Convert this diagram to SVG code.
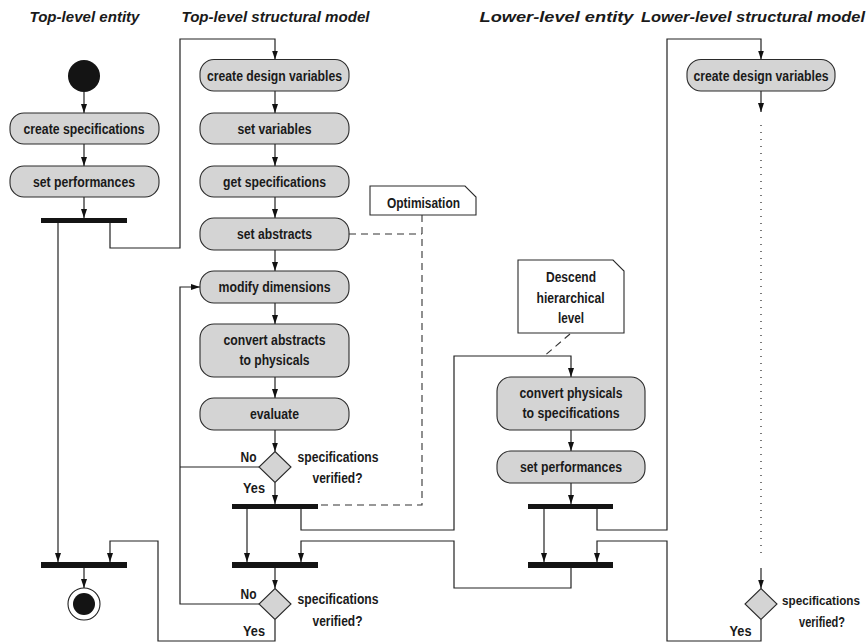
<svg xmlns="http://www.w3.org/2000/svg" width="867" height="643" viewBox="0 0 867 643">
  <defs>
    <marker id="arrow" markerUnits="userSpaceOnUse" markerWidth="10" markerHeight="8" refX="9" refY="3" orient="auto">
      <path d="M0,0 L9,3 L0,6 z" fill="#111"/>
    </marker>
    <style>
      text { font-family: "Liberation Sans", Arial, sans-serif; font-weight: bold; fill: #1a1a1a; }
      .title { font-size: 15px; font-style: italic; }
      .lbl { font-size: 14px; text-anchor: middle; }
      .sm { font-size: 13px; }
      .act { fill: #d4d4d4; stroke: #2a2a2a; stroke-width: 1.1; }
      .bar { fill: #141414; }
      .dec { fill: #d4d4d4; stroke: #2a2a2a; stroke-width: 1.1; }
      .note { fill: #ffffff; stroke: #2a2a2a; stroke-width: 1.1; }
      .flow { fill: none; stroke: #222; stroke-width: 1.2; }
      .arr { marker-end: url(#arrow); }
      .dash { fill: none; stroke: #333; stroke-width: 1.1; stroke-dasharray: 7 5; }
      .dot { fill: none; stroke: #222; stroke-width: 1.2; stroke-dasharray: 1 6; }
    </style>
  </defs>

  <!-- swimlane headings -->
  <g id="headings">
    <text class="title" x="29.5" y="21.5" textLength="110" lengthAdjust="spacingAndGlyphs">Top-level entity</text>
    <text class="title" x="181.5" y="21.5" textLength="188" lengthAdjust="spacingAndGlyphs">Top-level structural model</text>
    <text class="title" x="479.5" y="22" textLength="154" lengthAdjust="spacingAndGlyphs">Lower-level entity</text>
    <text class="title" x="641" y="22" textLength="224" lengthAdjust="spacingAndGlyphs">Lower-level structural model</text>
  </g>

  <!-- connectors -->
  <g id="connectors">
    <!-- top-level entity -->
    <path class="flow arr" d="M84,92 V113"/>
    <path class="flow arr" d="M84,144 V166"/>
    <path class="flow arr" d="M84,197 V218"/>
    <path class="flow arr" d="M58,223 V562"/>
    <path class="flow arr" d="M110,223 V248 H180 V39 H275 V59.5"/>
    <path class="flow arr" d="M84,568 V588"/>

    <!-- top-level structural model -->
    <path class="flow arr" d="M275,91 V113"/>
    <path class="flow arr" d="M275,144 V166"/>
    <path class="flow arr" d="M275,197 V218"/>
    <path class="flow arr" d="M275,250 V271"/>
    <path class="flow arr" d="M275,303 V324"/>
    <path class="flow arr" d="M275,377 V398"/>
    <path class="flow arr" d="M275,430 V451.5"/>
    <path class="flow arr" d="M275,482.5 V504"/>
    <path class="flow arr" d="M247,509 V562"/>
    <path class="flow arr" d="M275,568 V588.5"/>
    <!-- "No" loops back to modify dimensions -->
    <path class="flow" d="M259,467 H180"/>
    <path class="flow arr" d="M259,604 H180 V287 H200"/>
    <!-- "Yes" from the last check joins the top-level entity -->
    <path class="flow arr" d="M275,619.5 V641 H158 V541 H110 V562"/>

    <!-- descend into the lower level and back -->
    <path class="flow arr" d="M301,509 V530 H454 V356 H571 V377"/>
    <path class="flow arr" d="M571,568 V588 H454 V541 H301 V562"/>

    <!-- lower-level entity -->
    <path class="flow arr" d="M571,430 V451"/>
    <path class="flow arr" d="M571,483 V504"/>
    <path class="flow arr" d="M544,509 V562"/>
    <path class="flow arr" d="M597,509 V530 H667 V39 H761 V59.5"/>
    <path class="flow arr" d="M761,619.5 V641 H667 V541 H597 V562"/>

    <!-- lower-level structural model -->
    <path class="flow arr" d="M761,91 V112"/>
    <path class="dot" d="M761,125 V556"/>
    <path class="flow arr" d="M761,568 V588.5"/>

    <!-- note anchors -->
    <path class="dash" d="M349,234 H422"/>
    <path class="dash" d="M422,215 V505 H318"/>
    <path class="dash" d="M570,334 L543,357"/>
  </g>

  <!-- top-level entity -->
  <g id="start">
    <circle cx="84" cy="76" r="16" fill="#141414"/>
  </g>
  <g id="create-specifications">
    <rect class="act" x="10" y="113" width="149" height="31" rx="14"/>
    <text class="lbl" x="84" y="133.5" textLength="121" lengthAdjust="spacingAndGlyphs">create specifications</text>
  </g>
  <g id="set-performances-top">
    <rect class="act" x="10" y="166" width="149" height="31" rx="14"/>
    <text class="lbl" x="84" y="186.5" textLength="102" lengthAdjust="spacingAndGlyphs">set performances</text>
  </g>
  <g id="fork-top">
    <rect class="bar" x="41" y="218" width="86" height="5"/>
  </g>
  <g id="join-top">
    <rect class="bar" x="41" y="562" width="86" height="6"/>
  </g>
  <g id="end">
    <circle cx="84" cy="604" r="16" fill="#ffffff" stroke="#222" stroke-width="1.1"/>
    <circle cx="84" cy="604" r="11" fill="#141414"/>
  </g>

  <!-- top-level structural model -->
  <g id="create-design-variables-top">
    <rect class="act" x="200" y="59.5" width="149" height="31.5" rx="14"/>
    <text class="lbl" x="274.5" y="80.5" textLength="135" lengthAdjust="spacingAndGlyphs">create design variables</text>
  </g>
  <g id="set-variables">
    <rect class="act" x="200" y="113" width="149" height="31" rx="14"/>
    <text class="lbl" x="274.5" y="133.5" textLength="74" lengthAdjust="spacingAndGlyphs">set variables</text>
  </g>
  <g id="get-specifications">
    <rect class="act" x="200" y="166" width="149" height="31" rx="14"/>
    <text class="lbl" x="274.5" y="186.5" textLength="103" lengthAdjust="spacingAndGlyphs">get specifications</text>
  </g>
  <g id="set-abstracts">
    <rect class="act" x="200" y="218" width="149" height="32" rx="14"/>
    <text class="lbl" x="274.5" y="239" textLength="75" lengthAdjust="spacingAndGlyphs">set abstracts</text>
  </g>
  <g id="modify-dimensions">
    <rect class="act" x="200" y="271" width="149" height="32" rx="14"/>
    <text class="lbl" x="274.5" y="292" textLength="112" lengthAdjust="spacingAndGlyphs">modify dimensions</text>
  </g>
  <g id="convert-abstracts">
    <rect class="act" x="200" y="324" width="149" height="53" rx="14"/>
    <text class="lbl" x="274.5" y="345" textLength="102" lengthAdjust="spacingAndGlyphs">convert abstracts</text>
    <text class="lbl" x="274.5" y="365" textLength="70" lengthAdjust="spacingAndGlyphs">to physicals</text>
  </g>
  <g id="evaluate">
    <rect class="act" x="200" y="398" width="149" height="32" rx="14"/>
    <text class="lbl" x="274.5" y="418.5" textLength="49" lengthAdjust="spacingAndGlyphs">evaluate</text>
  </g>
  <g id="check-evaluate">
    <polygon class="dec" points="275,451.5 291,467 275,482.5 259,467"/>
    <text class="lbl" x="248.5" y="462" textLength="16" lengthAdjust="spacingAndGlyphs">No</text>
    <text class="lbl" x="338" y="462" textLength="81" lengthAdjust="spacingAndGlyphs">specifications</text>
    <text class="lbl" x="337.5" y="482.5" textLength="50" lengthAdjust="spacingAndGlyphs">verified?</text>
    <text class="lbl" x="254" y="492.5" textLength="22" lengthAdjust="spacingAndGlyphs">Yes</text>
  </g>
  <g id="fork-model">
    <rect class="bar" x="232" y="504" width="86" height="5"/>
  </g>
  <g id="join-model">
    <rect class="bar" x="232" y="562" width="86" height="6"/>
  </g>
  <g id="check-final">
    <polygon class="dec" points="275,588.5 291,604 275,619.5 259,604"/>
    <text class="lbl" x="248.5" y="599" textLength="16" lengthAdjust="spacingAndGlyphs">No</text>
    <text class="lbl" x="338" y="604" textLength="81" lengthAdjust="spacingAndGlyphs">specifications</text>
    <text class="lbl" x="337.5" y="626" textLength="50" lengthAdjust="spacingAndGlyphs">verified?</text>
    <text class="lbl" x="254" y="636" textLength="22" lengthAdjust="spacingAndGlyphs">Yes</text>
  </g>
  <g id="note-optimisation">
    <polygon class="note" points="370,186 465,186 476,197 476,215 370,215"/>
    <text class="lbl" x="423.5" y="208" textLength="73" lengthAdjust="spacingAndGlyphs">Optimisation</text>
  </g>

  <!-- lower-level entity -->
  <g id="note-descend">
    <polygon class="note" points="518,260 613,260 624,271 624,333 518,333"/>
    <text class="lbl" x="571" y="282" textLength="50" lengthAdjust="spacingAndGlyphs">Descend</text>
    <text class="lbl" x="570.5" y="302.5" textLength="68" lengthAdjust="spacingAndGlyphs">hierarchical</text>
    <text class="lbl" x="571" y="323" textLength="26" lengthAdjust="spacingAndGlyphs">level</text>
  </g>
  <g id="convert-physicals">
    <rect class="act" x="497" y="377" width="148" height="53" rx="14"/>
    <text class="lbl" x="571" y="397.5" textLength="103" lengthAdjust="spacingAndGlyphs">convert physicals</text>
    <text class="lbl" x="571" y="417.5" textLength="97" lengthAdjust="spacingAndGlyphs">to specifications</text>
  </g>
  <g id="set-performances-lower">
    <rect class="act" x="497" y="451" width="148" height="32" rx="14"/>
    <text class="lbl" x="571" y="471.5" textLength="102" lengthAdjust="spacingAndGlyphs">set performances</text>
  </g>
  <g id="fork-lower">
    <rect class="bar" x="528" y="504" width="85" height="5"/>
  </g>
  <g id="join-lower">
    <rect class="bar" x="528" y="562" width="85" height="6"/>
  </g>

  <!-- lower-level structural model -->
  <g id="create-design-variables-lower">
    <rect class="act" x="687" y="59.5" width="148" height="31.5" rx="14"/>
    <text class="lbl" x="761" y="80.5" textLength="135" lengthAdjust="spacingAndGlyphs">create design variables</text>
  </g>
  <g id="check-lower">
    <polygon class="dec" points="761,588.5 777,604 761,619.5 745,604"/>
    <text class="lbl sm" x="821" y="605" textLength="78" lengthAdjust="spacingAndGlyphs">specifications</text>
    <text class="lbl" x="822" y="626.5" textLength="46" lengthAdjust="spacingAndGlyphs">verified?</text>
    <text class="lbl" x="740.5" y="636" textLength="22" lengthAdjust="spacingAndGlyphs">Yes</text>
  </g>
</svg>
